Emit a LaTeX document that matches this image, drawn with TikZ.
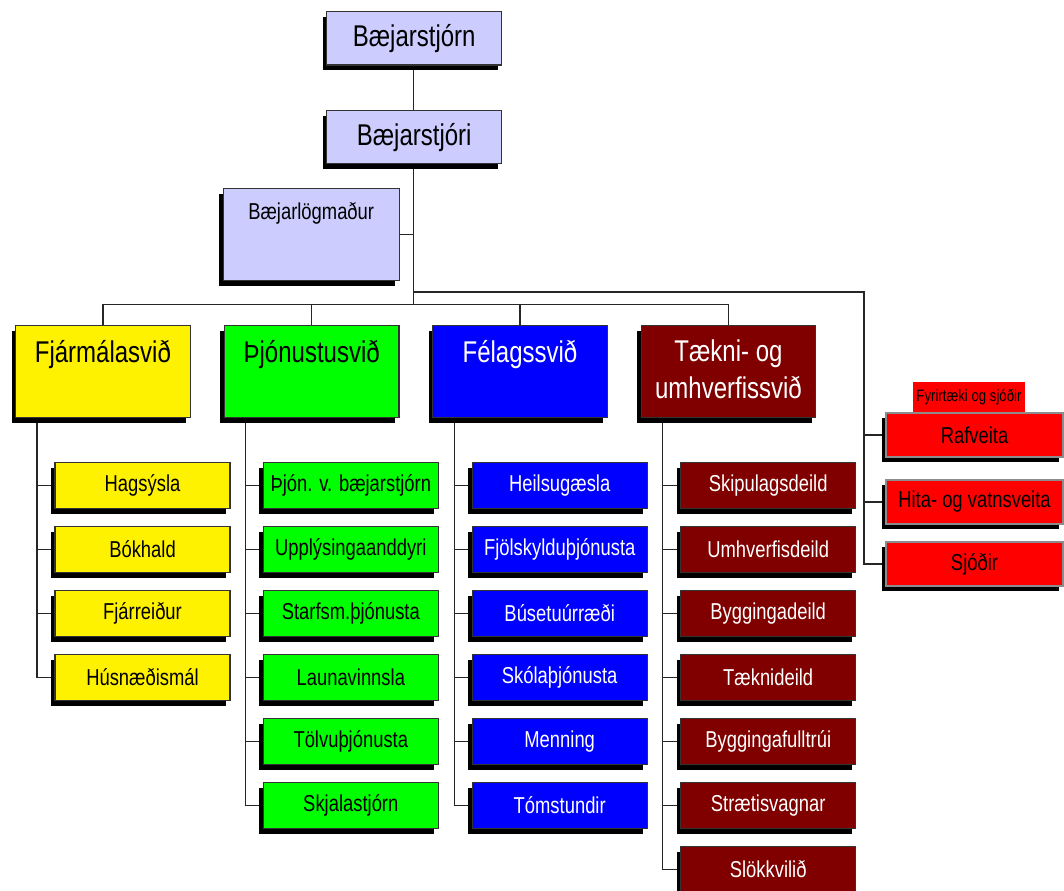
\documentclass[tikz,border=0pt]{standalone}
\usepackage{fontspec}
\setmainfont[FakeStretch=0.8]{Liberation Sans}
\usetikzlibrary{shadows,backgrounds}
\definecolor{lav}{RGB}{204,204,255}
\definecolor{maroonfill}{RGB}{128,0,0}

\begin{document}
\begin{tikzpicture}[x=0.75pt,y=-0.75pt,
  conn/.style={draw=black!85, line width=1pt},
  boxshadow/.style={drop shadow={shadow xshift=-3pt,shadow yshift=-3.9pt,fill=black,opacity=1}},
  topbox/.style={boxshadow, draw=black!80, line width=0.8pt, fill=lav, inner sep=0pt,
    minimum width=131.25pt, minimum height=40pt, font=\fontsize{22.5}{27}\selectfont},
  divbox/.style={boxshadow, draw=black!80, line width=0.8pt, inner sep=0pt,
    minimum width=130.9pt, minimum height=69.3pt},
  divtext/.style={inner sep=0pt, anchor=base, font=\fontsize{22.5}{27.5}\selectfont},
  unitbox/.style={boxshadow, draw=black!80, line width=0.8pt, inner sep=0pt,
    minimum width=131.25pt, minimum height=34.5pt, font=\fontsize{17.25}{20}\selectfont},
  redbox/.style={boxshadow, draw=black!45, line width=1.3pt, fill=red, inner sep=0pt,
    minimum width=132.75pt, minimum height=33pt, font=\fontsize{17.25}{20}\selectfont},
]
\useasboundingbox (0,0) rectangle (1064,890);
\clip (0,0) rectangle (1064,890);

% top of the organisation
\node[topbox] (stjorn) at (414.2,38.3) {Bæjarstjórn};
\node[topbox] (stjori) at (414.2,137.2) {Bæjarstjóri};
\node[boxshadow, draw=black!80, line width=0.8pt, fill=lav, inner sep=0pt,
      minimum width=131.8pt, minimum height=69.3pt] (logm) at (311.2,234.5) {};
\node[inner sep=0pt, anchor=base, font=\fontsize{17.25}{20}\selectfont] (logmt)
      at ([yshift=-23.8pt]logm.north) {Bæjarlögmaður};

% divisions
\node[divbox, fill=yellow] (fjarm) at (102.9,371.5) {};
\node[divbox, fill=green] (thjon) at (311.7,371.5) {};
\node[divbox, fill=blue] (felag) at (520,371.5) {};
\node[divbox, fill=maroonfill] (taekni) at (728.5,371.5) {};
\node[divtext] (fjarmt) at ([yshift=-28.3pt]fjarm.north) {Fjármálasvið};
\node[divtext] (thjont) at ([yshift=-28.3pt]thjon.north) {Þjónustusvið};
\node[divtext, text=white] (felagt) at ([yshift=-28.3pt]felag.north) {Félagssvið};
\node[divtext, anchor=north, align=center, text=white] (taeknit)
      at ([yshift=-11.4pt]taekni.north) {Tækni- og\\umhverfissvið};

% units of each division
\foreach \i/\t in {1/Hagsýsla,2/Bókhald,3/Fjárreiður,4/Húsnæðismál}
  \node[unitbox, fill=yellow] (f\i) at (142.5,421.3+64*\i) {\t};
\foreach \i/\t in {1/Þjón. v. bæjarstjórn,2/Upplýsingaanddyri,3/Starfsm.þjónusta,
                   4/Launavinnsla,5/Tölvuþjónusta,6/Skjalastjórn}
  \node[unitbox, fill=green] (s\i) at (350.8,421.3+64*\i) {\t};
\foreach \i/\t in {1/Heilsugæsla,2/Fjölskylduþjónusta,3/Búsetuúrræði,
                   4/Skólaþjónusta,5/Menning,6/Tómstundir}
  \node[unitbox, fill=blue, text=white] (l\i) at (559.7,421.3+64*\i) {\t};
\foreach \i/\t in {1/Skipulagsdeild,2/Umhverfisdeild,3/Byggingadeild,4/Tæknideild,
                   5/Byggingafulltrúi,6/Strætisvagnar,7/Slökkvilið}
  \node[unitbox, fill=maroonfill, text=white] (t\i) at (768.2,421.3+64*\i) {\t};

% companies and funds
\node[fill=red, inner sep=0pt, minimum width=84pt, minimum height=22.5pt,
      font=\fontsize{12.4}{14}\selectfont] (fyrir) at (969,397) {Fyrirtæki og sjóðir};
\node[redbox] (r1) at (974.5,435) {Rafveita};
\node[redbox] (r2) at (974.5,502) {Hita- og vatnsveita};
\node[redbox] (r3) at (974.5,564) {Sjóðir};

\coordinate (hub) at (413.3,304.7);
\coordinate (rbus) at (864,292);

\begin{pgfonlayer}{background}
  \draw[conn] (stjorn.south -| hub) -- (stjori.north -| hub);
  \draw[conn] (stjori.south -| hub) -- (hub);
  \draw[conn] (logm.east) -- (logm.east -| hub);
  \draw[conn] (fjarm.north) |- (hub) -| (taekni.north);
  \draw[conn] (thjon.north) -- (thjon.north |- hub);
  \draw[conn] (felag.north) -- (felag.north |- hub);
  \draw[conn] (hub |- rbus) -- (rbus) -- (rbus |- r3.west) -- (r3.west);
  \draw[conn] (rbus |- r1.west) -- (r1.west);
  \draw[conn] (rbus |- r2.west) -- (r2.west);
  \foreach \i in {1,...,4}
    \draw[conn] ([xshift=16.3pt]fjarm.south west) |- (f\i.west);
  \foreach \i in {1,...,6}
    \draw[conn] ([xshift=16.3pt]thjon.south west) |- (s\i.west);
  \foreach \i in {1,...,6}
    \draw[conn] ([xshift=16.5pt]felag.south west) |- (l\i.west);
  \foreach \i in {1,...,7}
    \draw[conn] ([xshift=16.5pt]taekni.south west) |- (t\i.west);
\end{pgfonlayer}
\end{tikzpicture}
\end{document}
